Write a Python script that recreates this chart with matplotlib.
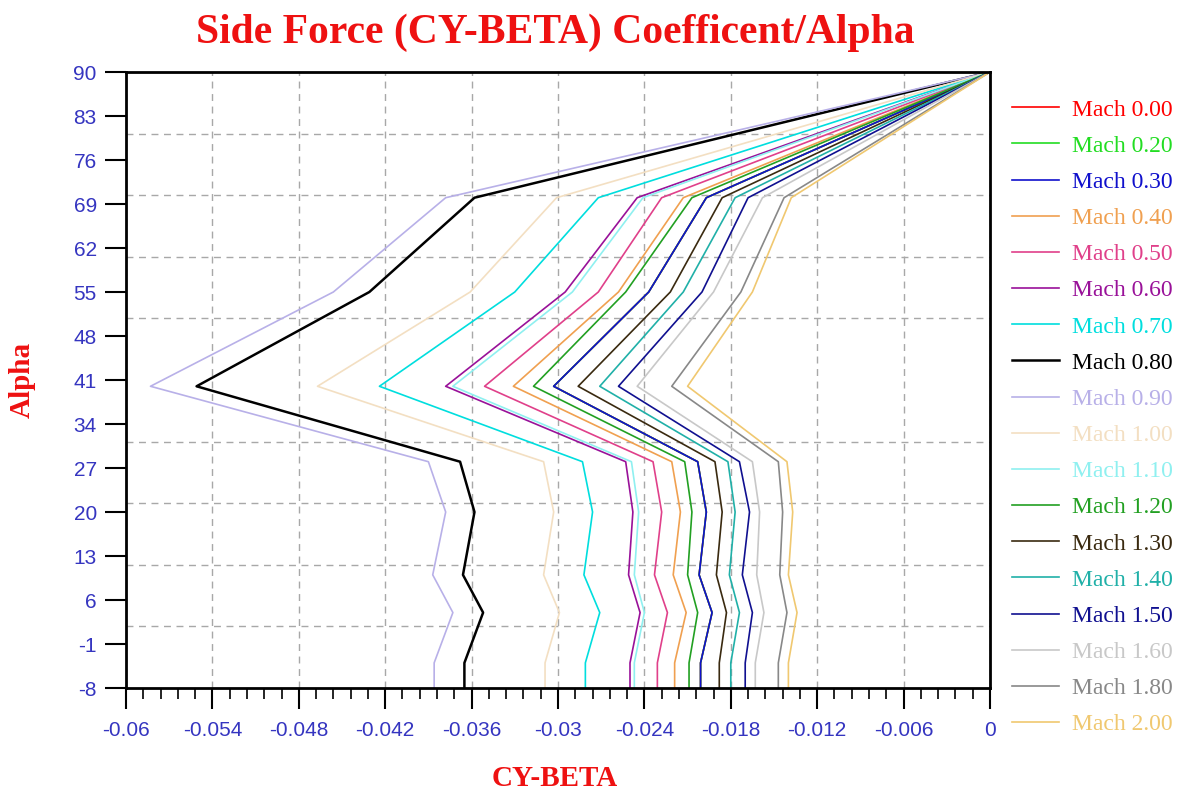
import matplotlib
matplotlib.use("Agg")
import matplotlib.pyplot as plt
from matplotlib.ticker import MultipleLocator, FixedLocator
import numpy as np

# angle of attack schedule, deg
alpha = [-8, -4, 4, 10, 20, 28, 40, 55, 70, 90]

mach_labels = ["Mach 0.00", "Mach 0.20", "Mach 0.30", "Mach 0.40", "Mach 0.50",
               "Mach 0.60", "Mach 0.70", "Mach 0.80", "Mach 0.90", "Mach 1.00",
               "Mach 1.10", "Mach 1.20", "Mach 1.30", "Mach 1.40", "Mach 1.50",
               "Mach 1.60", "Mach 1.80", "Mach 2.00"]

# CY-beta per Mach number, one value per alpha
cyb_m000 = [-0.0201, -0.0201, -0.0193, -0.0202, -0.0197, -0.0203, -0.0303, -0.0237, -0.0197, 0.0]
cyb_m020 = [-0.0201, -0.0201, -0.0193, -0.0202, -0.0197, -0.0203, -0.0303, -0.0237, -0.0197, 0.0]
cyb_m030 = [-0.0201, -0.0201, -0.0193, -0.0202, -0.0197, -0.0203, -0.0303, -0.0237, -0.0197, 0.0]
cyb_m040 = [-0.0219, -0.0219, -0.0211, -0.0220, -0.0215, -0.0221, -0.0331, -0.0258, -0.0213, 0.0]
cyb_m050 = [-0.0231, -0.0231, -0.0224, -0.0233, -0.0228, -0.0234, -0.0351, -0.0272, -0.0228, 0.0]
cyb_m060 = [-0.0250, -0.0250, -0.0243, -0.0251, -0.0248, -0.0253, -0.0378, -0.0295, -0.0245, 0.0]
cyb_m070 = [-0.0281, -0.0281, -0.0271, -0.0282, -0.0276, -0.0283, -0.0424, -0.0330, -0.0272, 0.0]
cyb_m080 = [-0.0365, -0.0365, -0.0352, -0.0366, -0.0358, -0.0368, -0.0551, -0.0431, -0.0358, 0.0]
cyb_m090 = [-0.0386, -0.0386, -0.0373, -0.0387, -0.0378, -0.0390, -0.0583, -0.0456, -0.0378, 0.0]
cyb_m100 = [-0.0309, -0.0309, -0.0299, -0.0310, -0.0303, -0.0310, -0.0467, -0.0361, -0.0301, 0.0]
cyb_m110 = [-0.0247, -0.0247, -0.0240, -0.0247, -0.0244, -0.0249, -0.0373, -0.0290, -0.0241, 0.0]
cyb_m120 = [-0.0209, -0.0209, -0.0203, -0.0210, -0.0207, -0.0212, -0.0317, -0.0253, -0.0207, 0.0]
cyb_m130 = [-0.0188, -0.0188, -0.0183, -0.0190, -0.0186, -0.0191, -0.0286, -0.0222, -0.0186, 0.0]
cyb_m140 = [-0.0180, -0.0180, -0.0174, -0.0181, -0.0177, -0.0182, -0.0271, -0.0213, -0.0177, 0.0]
cyb_m150 = [-0.0170, -0.0170, -0.0165, -0.0172, -0.0167, -0.0174, -0.0258, -0.0200, -0.0168, 0.0]
cyb_m160 = [-0.0163, -0.0163, -0.0157, -0.0162, -0.0160, -0.0165, -0.0245, -0.0192, -0.0158, 0.0]
cyb_m180 = [-0.0147, -0.0147, -0.0141, -0.0146, -0.0144, -0.0147, -0.0221, -0.0173, -0.0143, 0.0]
cyb_m200 = [-0.0140, -0.0140, -0.0134, -0.0140, -0.0137, -0.0141, -0.0210, -0.0165, -0.0138, 0.0]

series = [cyb_m000, cyb_m020, cyb_m030, cyb_m040, cyb_m050, cyb_m060, cyb_m070,
          cyb_m080, cyb_m090, cyb_m100, cyb_m110, cyb_m120, cyb_m130, cyb_m140,
          cyb_m150, cyb_m160, cyb_m180, cyb_m200]

colors = ["#ff0000", "#22dd22", "#1010cc", "#f0a050", "#e0408a", "#991199",
          "#00dede", "#000000", "#b8b0e8", "#f3dfc2", "#8ff0f0", "#22a022",
          "#3a2a10", "#20b0a8", "#101090", "#c8c8c8", "#888888", "#f0c870"]

x_ticks = [-0.06, -0.054, -0.048, -0.042, -0.036, -0.03, -0.024, -0.018, -0.012, -0.006, 0]
x_tick_labels = ["-0.06", "-0.054", "-0.048", "-0.042", "-0.036", "-0.03", "-0.024",
                 "-0.018", "-0.012", "-0.006", "0"]
y_ticks = [-8, -1, 6, 13, 20, 27, 34, 41, 48, 55, 62, 69, 76, 83, 90]

TITLE_RED = "#ee1111"
TICK_BLUE = "#3535c0"
tick_font = ["Liberation Sans Narrow", "Liberation Sans", "DejaVu Sans"]
serif_font = ["Liberation Serif", "DejaVu Serif"]

fig = plt.figure(figsize=(11.86, 7.91), dpi=100)
ax = fig.add_axes([126 / 1186, 1 - 688 / 791, 864 / 1186, 616 / 791])

lines = []
for vals, c, lab in zip(series, colors, mach_labels):
    lw = 1.8 if c == "#000000" else 1.2
    ln, = ax.plot(vals, alpha, color=c, lw=lw, label=lab)
    lines.append(ln)

ax.set_xlim(x_ticks[0], x_ticks[-1])
ax.set_ylim(y_ticks[0], y_ticks[-1])

ax.set_xticks(x_ticks)
ax.set_xticklabels(x_tick_labels, family=tick_font, fontsize=15, color=TICK_BLUE)
ax.xaxis.set_minor_locator(MultipleLocator(0.0012))
ax.set_yticks(y_ticks)
ax.set_yticklabels([str(v) for v in y_ticks], family=tick_font, fontsize=15, color=TICK_BLUE)
# horizontal grid splits the alpha range in ten, independent of the ticks
ax.yaxis.set_minor_locator(FixedLocator(np.linspace(y_ticks[0], y_ticks[-1], 11)))

ax.tick_params(axis="x", which="major", direction="out", length=15, width=1.5, pad=9)
ax.tick_params(axis="x", which="minor", direction="out", length=8, width=1.2)
ax.tick_params(axis="y", which="major", direction="out", length=15, width=1.5, pad=6)
ax.tick_params(axis="y", which="minor", length=0)

ax.grid(True, axis="x", which="major", color="#a8a8a8", ls=(0, (5, 4)), lw=1)
ax.grid(True, axis="y", which="minor", color="#a8a8a8", ls=(0, (5, 4)), lw=1)
ax.set_axisbelow(True)
for sp in ax.spines.values():
    sp.set_linewidth(2)
    sp.set_color("black")

fig.text(555 / 1186, 1 - 33 / 791, "Side Force (CY-BETA) Coefficent/Alpha",
         ha="center", va="center", fontsize=30, fontweight="bold",
         family=serif_font, color=TITLE_RED)
fig.text(22 / 1186, 1 - 380 / 791, "Alpha", rotation=90, ha="center", va="center",
         fontsize=21, fontweight="bold", family=serif_font, color=TITLE_RED)
fig.text(555 / 1186, 1 - 778 / 791, "CY-BETA", ha="center", va="center",
         fontsize=21, fontweight="bold", family=serif_font, color=TITLE_RED)

fig.legend(lines, mach_labels, loc="upper left", bbox_to_anchor=(1012 / 1186, 1 - 99 / 791),
           frameon=False, labelcolor="linecolor", prop={"family": serif_font, "size": 17},
           handlelength=2.0, handletextpad=0.55, labelspacing=0.62,
           borderaxespad=0, borderpad=0)

fig.savefig("out.png", dpi=100)
